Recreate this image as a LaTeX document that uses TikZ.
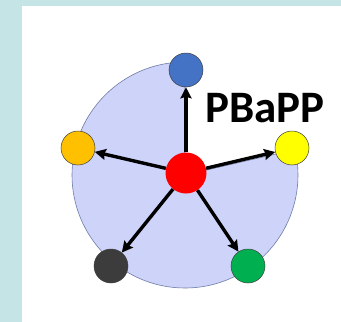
\documentclass[tikz,border=0pt]{standalone}
\usepackage{fontspec}
\setmainfont{Carlito}
\usetikzlibrary{arrows.meta}
\definecolor{frame}{RGB}{197,228,230}
\definecolor{pie}{RGB}{206,211,250}
\definecolor{pieedge}{RGB}{110,125,165}
\definecolor{cblue}{RGB}{68,114,196}
\definecolor{cyellow}{RGB}{255,255,0}
\definecolor{cgreen}{RGB}{0,176,80}
\definecolor{cdark}{RGB}{60,60,60}
\definecolor{corange}{RGB}{255,192,0}
\definecolor{cred}{RGB}{255,0,0}
\tikzset{
  dot/.style={circle, draw=black!75, line width=0.5pt, minimum size=34pt, inner sep=0pt},
  hub/.style={circle, draw=none, minimum size=41pt, inner sep=0pt},
  spoke/.style={line width=3.4pt, -{Stealth[length=11pt,width=11pt,inset=1.5pt]}},
}
\begin{document}
\begin{tikzpicture}[x=1pt,y=-1pt]
  \useasboundingbox (0,0) rectangle (341,322);
  \fill[frame] (0,0) rectangle (341,322);
  \fill[white] (22,6) rectangle (341,322);
  % pie behind the spokes, open between the top and right spokes
  \filldraw[fill=pie, draw=pieedge, line width=0.6pt]
    (185,175) -- ++(90:-113) arc[start angle=-90, end angle=-373, radius=113] -- cycle;
  \node[hub, fill=cred] (c) at (186,173) {};
  \node[dot, fill=cblue] (n1) at (186,70) {};
  \node[dot, fill=cyellow] (n2) at (292,148) {};
  \node[dot, fill=cgreen] (n3) at (248,266) {};
  \node[dot, fill=cdark] (n4) at (111,266) {};
  \node[dot, fill=corange] (n5) at (78,148) {};
  \foreach \n in {n1,n2,n3,n4,n5} \draw[spoke] (c) -- (\n);
  \node[font=\bfseries\fontsize{45}{50}\selectfont, inner sep=0pt] (t) at (265,108) {PBaPP};
\end{tikzpicture}
\end{document}
